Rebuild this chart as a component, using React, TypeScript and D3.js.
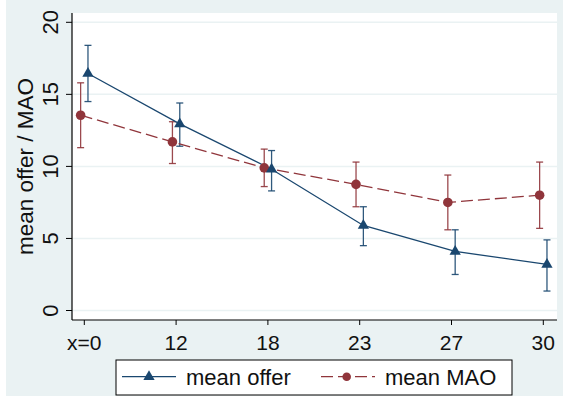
import React from "react";
import * as d3 from "d3";

const categories = ["x=0", "12", "18", "23", "27", "30"];
const offerMean = [16.45, 12.95, 9.8, 5.9, 4.1, 3.2];
const offerHi = [18.4, 14.4, 11.1, 7.2, 5.6, 4.9];
const offerLo = [14.5, 11.4, 8.3, 4.5, 2.5, 1.35];
const maoMean = [13.55, 11.7, 9.9, 8.75, 7.5, 8.0];
const maoHi = [15.8, 13.1, 11.2, 10.3, 9.4, 10.3];
const maoLo = [11.3, 10.2, 8.6, 7.2, 5.6, 5.7];
const yTicks = [0, 5, 10, 15, 20];
const legendLabels = ["mean offer", "mean MAO"];

const W = 563;
const H = 398;
const NAVY = "#1a476f";
const MAROON = "#90353b";
const BG = "#eaf2f3";
const FONT = "'Liberation Sans', Arial, Helvetica, sans-serif";

export default function App() {
  const plot = { left: 72, right: 557, top: 13, bottom: 320 };
  const x = d3.scaleLinear().domain([0, categories.length - 1]).range([84.3, 543.3]);
  const y = d3.scaleLinear().domain([0, 20]).range([310.5, 22.3]);
  const off = 0.04;

  const line = d3
    .line<[number, number]>()
    .x((d) => d[0])
    .y((d) => d[1]);

  const offerPts: [number, number][] = offerMean.map((v, i) => [x(i + off), y(v)]);
  const maoPts: [number, number][] = maoMean.map((v, i) => [x(i - off), y(v)]);

  const tri = d3.symbol().type(d3.symbolTriangle).size(55);

  const errBars = (hi: number[], lo: number[], dx: number, color: string, key: string) =>
    hi.map((h, i) => {
      const cx = x(i + dx);
      return (
        <g key={key + i} stroke={color} strokeWidth={1.3} fill="none" strokeOpacity={0.9}>
          <line x1={cx} x2={cx} y1={y(h)} y2={y(lo[i])} />
          <line x1={cx - 3.5} x2={cx + 3.5} y1={y(h)} y2={y(h)} />
          <line x1={cx - 3.5} x2={cx + 3.5} y1={y(lo[i])} y2={y(lo[i])} />
        </g>
      );
    });

  return (
    <svg
      width={W}
      height={H}
      style={{ position: "absolute", left: 0, top: 0 }}
      fontFamily={FONT}
    >
      <rect x={0} y={0} width={W} height={H} fill="#ffffff" />
      <rect x={6} y={0} width={W - 6} height={396} fill={BG} />
      <rect
        x={plot.left}
        y={plot.top}
        width={plot.right - plot.left}
        height={plot.bottom - plot.top}
        fill="#ffffff"
      />
      {yTicks.map((t) => (
        <g key={"g" + t}>
          <line x1={plot.left} x2={plot.right} y1={y(t)} y2={y(t)} stroke={BG} strokeWidth={1.5} />
          <line x1={66} x2={plot.left} y1={y(t)} y2={y(t)} stroke="#000" strokeWidth={1} />
          <text
            transform={`translate(58,${y(t)}) rotate(-90)`}
            textAnchor="middle"
            fontSize={22}
            fill="#111"
          >
            {t}
          </text>
        </g>
      ))}
      <line x1={plot.left} x2={plot.left} y1={plot.top} y2={plot.bottom} stroke="#000" strokeWidth={1.2} />
      <line x1={plot.left} x2={plot.right} y1={plot.bottom} y2={plot.bottom} stroke="#000" strokeWidth={1.2} />
      {categories.map((c, i) => (
        <g key={"x" + i}>
          <line x1={x(i)} x2={x(i)} y1={plot.bottom} y2={plot.bottom + 5} stroke="#000" strokeWidth={1} />
          <text x={x(i)} y={350} textAnchor="middle" fontSize={21} fill="#111">
            {c}
          </text>
        </g>
      ))}
      <text
        transform={`translate(33,${(plot.top + plot.bottom) / 2}) rotate(-90)`}
        textAnchor="middle"
        fontSize={22.5}
        fill="#111"
      >
        mean offer / MAO
      </text>

      {errBars(maoHi, maoLo, -off, MAROON, "m")}
      {errBars(offerHi, offerLo, off, NAVY, "o")}
      <path d={line(maoPts) || ""} fill="none" stroke={MAROON} strokeWidth={1.3} strokeDasharray="12,5" />
      <path d={line(offerPts) || ""} fill="none" stroke={NAVY} strokeWidth={1.3} />
      {maoPts.map((p, i) => (
        <circle key={"mc" + i} cx={p[0]} cy={p[1]} r={4.8} fill={MAROON} />
      ))}
      {offerPts.map((p, i) => (
        <path key={"ot" + i} d={tri() || ""} transform={`translate(${p[0]},${p[1]})`} fill={NAVY} />
      ))}

      <rect x={116} y={360} width={396} height={35} fill="#fff" stroke="#000" strokeWidth={1} />
      <line x1={122} x2={176} y1={376.7} y2={376.7} stroke={NAVY} strokeWidth={1.3} />
      <path d={tri() || ""} transform="translate(149,376.7)" fill={NAVY} />
      <text x={186} y={384.5} fontSize={22} fill="#111">
        {legendLabels[0]}
      </text>
      <line x1={321} x2={375} y1={376.7} y2={376.7} stroke={MAROON} strokeWidth={1.3} strokeDasharray="12,5" />
      <circle cx={346.7} cy={376.7} r={4.3} fill={MAROON} />
      <text x={385} y={384.5} fontSize={22} fill="#111">
        {legendLabels[1]}
      </text>
    </svg>
  );
}
